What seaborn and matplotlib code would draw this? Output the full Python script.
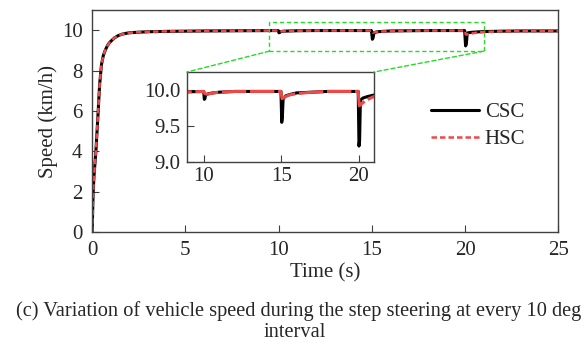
import numpy as np
import pandas as pd
import matplotlib
matplotlib.use("Agg")
import matplotlib.pyplot as plt
import seaborn as sns
from matplotlib.patches import Rectangle, ConnectionPatch

# ---- data ----
t_csc = [0, 0.05, 0.1, 0.2, 0.3, 0.4, 0.5, 0.6, 0.7, 0.8, 0.9, 1.0, 1.2, 1.4, 1.6, 1.8, 2.0, 2.5, 3, 4, 5, 6, 8, 9.98,
         10.02, 10.06, 10.1, 10.3, 10.6, 11, 12, 13, 14, 14.98,
         15.03, 15.07, 15.12, 15.3, 15.6, 16, 17, 18, 19, 19.98,
         20.03, 20.07, 20.12, 20.3, 20.6, 21, 22, 23, 25]
v_csc = [0, 1.9, 2.8, 4.0, 5.6, 7.3, 8.3, 8.75, 9.0, 9.2, 9.35, 9.45, 9.62, 9.73, 9.8, 9.84, 9.87, 9.9, 9.92, 9.94, 9.95, 9.96, 9.97, 9.98,
         9.87, 9.88, 9.93, 9.95, 9.96, 9.97, 9.98, 9.98, 9.98, 9.98,
         9.55, 9.62, 9.88, 9.92, 9.94, 9.96, 9.97, 9.98, 9.98, 9.98,
         9.22, 9.3, 9.86, 9.89, 9.91, 9.93, 9.95, 9.96, 9.96]

t_hsc = [0, 0.05, 0.1, 0.2, 0.3, 0.4, 0.5, 0.6, 0.7, 0.8, 0.9, 1.0, 1.2, 1.4, 1.6, 1.8, 2.0, 2.5, 3, 4, 5, 6, 8, 9.98,
         10.05, 10.2, 10.6, 11, 12, 13, 14, 14.98,
         15.05, 15.2, 15.5, 16, 17, 18, 19, 19.98,
         20.05, 20.15, 20.5, 21, 22, 23, 25]
v_hsc = [0, 1.9, 2.8, 4.0, 5.6, 7.3, 8.3, 8.75, 9.0, 9.2, 9.35, 9.45, 9.62, 9.73, 9.8, 9.84, 9.87, 9.9, 9.92, 9.94, 9.95, 9.96, 9.97, 9.98,
         9.95, 9.94, 9.96, 9.97, 9.98, 9.98, 9.98, 9.98,
         9.88, 9.9, 9.93, 9.95, 9.97, 9.98, 9.98, 9.98,
         9.78, 9.8, 9.86, 9.91, 9.94, 9.95, 9.96]

series_names = ["CSC", "HSC"]
x_ticks = [0, 5, 10, 15, 20, 25]
y_ticks = [0, 2, 4, 6, 8, 10]
inset_x_ticks = [10, 15, 20]
inset_y_ticks = [9.0, 9.5, 10.0]
caption_lines = ["(c) Variation of vehicle speed during the step steering at every 10 deg",
                 "interval"]

df = pd.concat([
    pd.DataFrame({"Time": t_csc, "Speed": v_csc, "Controller": "CSC"}),
    pd.DataFrame({"Time": t_hsc, "Speed": v_hsc, "Controller": "HSC"}),
])

sns.set_style("ticks")
plt.rcParams["font.family"] = ["Liberation Serif", "DejaVu Serif"]

FS = 15
fig = plt.figure(figsize=(5.87, 3.43), dpi=100)
ax = fig.add_axes([0.157, 0.323, 0.794, 0.648])

BLACK = "#000000"
RED = "#f04848"
GREEN = "#22dd22"
SPINE = "#404040"

def draw(a, lw_b, lw_r, dash, legend):
    sns.lineplot(data=df[df.Controller == "CSC"], x="Time", y="Speed", ax=a,
                 color=BLACK, lw=lw_b, label="CSC" if legend else None,
                 estimator=None, sort=False)
    sns.lineplot(data=df[df.Controller == "HSC"], x="Time", y="Speed", ax=a,
                 color=RED, lw=lw_r, ls=dash, label="HSC" if legend else None,
                 estimator=None, sort=False)

draw(ax, 2.2, 1.8, (0, (2.2, 1.2)), True)
ax.set_xlim(0, 25)
ax.set_ylim(0, 11)
ax.set_xticks(x_ticks)
ax.set_yticks(y_ticks)
ax.set_xlabel("Time (s)", fontsize=FS, labelpad=3)
ax.set_ylabel("Speed (km/h)", fontsize=FS, labelpad=3)
ax.tick_params(axis="x", direction="in", labelsize=FS, length=5, color=SPINE, pad=6)
ax.tick_params(axis="y", direction="in", labelsize=FS, length=5, color=SPINE, pad=7)
for s in ax.spines.values():
    s.set_color(SPINE)
    s.set_linewidth(1.0)
    s.set_visible(True)

leg = ax.legend(loc="upper left", bbox_to_anchor=(0.686, 0.668), frameon=False,
                fontsize=FS, handlelength=2.3, handletextpad=0.3, labelspacing=0.35)

# zoom box
bx0, bx1, by0, by1 = 9.5, 21.0, 8.96, 10.4
ax.add_patch(Rectangle((bx0, by0), bx1 - bx0, by1 - by0, fill=False,
                       ec=GREEN, ls=(0, (3, 2)), lw=1.0, zorder=5))

# inset
axin = fig.add_axes([0.3186, 0.528, 0.3185, 0.262])
draw(axin, 2.2, 2.2, (0, (8, 1.2)), False)
axin.set_xlim(8.9, 21)
axin.set_ylim(9.0, 10.25)
axin.set_xticks(inset_x_ticks)
axin.set_yticks(inset_y_ticks)
axin.set_yticklabels([f"{v:.1f}" for v in inset_y_ticks])
axin.set_xlabel("")
axin.set_ylabel("")
axin.tick_params(axis="x", direction="in", labelsize=FS, length=5, color=SPINE, pad=4)
axin.tick_params(axis="y", direction="in", labelsize=FS, length=5, color=SPINE, pad=5)
for s in axin.spines.values():
    s.set_color(SPINE)
    s.set_linewidth(1.0)
    s.set_visible(True)

for (xa, ya), (xb, yb) in [((bx0, by0), (0, 1)), ((bx1, by0), (1, 1))]:
    cp = ConnectionPatch(xyA=(xa, ya), coordsA=ax.transData,
                         xyB=(xb, yb), coordsB=axin.transAxes,
                         color=GREEN, ls=(0, (3, 2)), lw=1.0)
    fig.add_artist(cp)

fig.text(298.5 / 587, 1 - 316 / 343, caption_lines[0], ha="center", va="baseline", fontsize=14.7)
fig.text(295 / 587, 1 - 337 / 343, caption_lines[1], ha="center", va="baseline", fontsize=14.7)

fig.savefig("out.png", dpi=100, facecolor="white")
